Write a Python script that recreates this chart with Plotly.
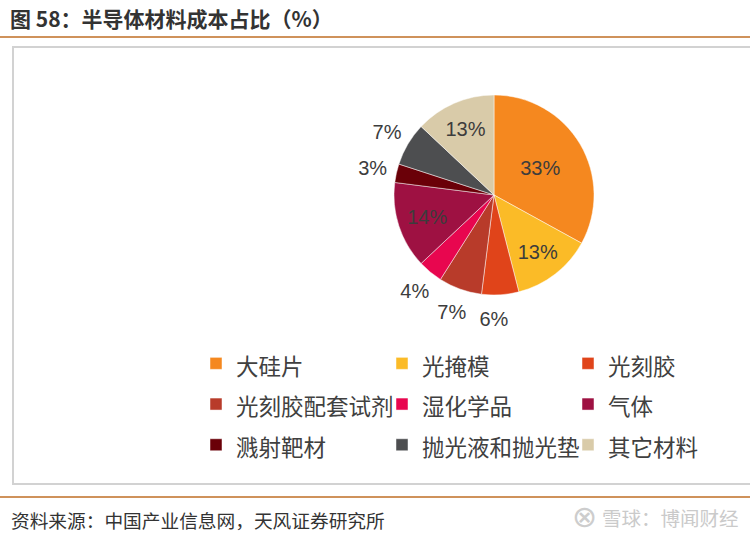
import plotly.graph_objects as go

# ---- data ----
categories = ['大硅片', '光掩模', '光刻胶', '光刻胶配套试剂', '湿化学品', '气体', '溅射靶材', '抛光液和抛光垫', '其它材料']
shares = [33, 13, 6, 7, 4, 14, 3, 7, 13]
colors = ['#F5881F', '#FBBB27', '#E0441A', '#B83B2A', '#E8064F', '#9E1142', '#6A0008', '#4D4E50', '#D9CBA9']
label_inside = [True, True, False, False, False, True, False, False, True]

title_text = '图 58：半导体材料成本占比（%）'
source_text = '资料来源：中国产业信息网，天风证券研究所'
watermark_text = '雪球：博闻财经'

W, H = 750, 538
ML, MR, MT, MB = 10, 60, 40, 50
PW, PH = W - ML - MR, H - MT - MB


def xp(px):
    return (px - ML) / PW


def yp(py):
    return 1 - (py - MT) / PH


cx, cy, R = 494, 195, 100      # pie
R2, HOLE = 135, 0.84           # transparent label ring for the outside percentages

legend_labels = [f'<span style="font-size:22.5px">{c}</span>' for c in categories]
pct_font = dict(family='Liberation Sans, Arial, sans-serif', size=20, color='#3C3C3C')

fig = go.Figure()
fig.add_trace(go.Pie(
    labels=legend_labels,
    values=shares,
    sort=False,
    direction='clockwise',
    rotation=0,
    marker=dict(colors=colors, line=dict(color='rgba(255,255,255,0.6)', width=0.8)),
    texttemplate='%{value}%',
    textposition=['inside' if f else 'none' for f in label_inside],
    insidetextorientation='horizontal',
    textfont=pct_font, insidetextfont=pct_font,
    domain=dict(x=[xp(cx - R), xp(cx + R)], y=[yp(cy + R), yp(cy - R)]),
    hoverinfo='label+percent',
))
# invisible outer ring that only carries the small-slice percentages (no leader lines)
fig.add_trace(go.Pie(
    labels=legend_labels,
    values=shares,
    sort=False,
    direction='clockwise',
    rotation=0,
    hole=HOLE,
    showlegend=False,
    hoverinfo='skip',
    marker=dict(colors=['rgba(0,0,0,0)'] * len(shares), line=dict(width=0)),
    texttemplate='%{value}%',
    textposition=['none' if f else 'inside' for f in label_inside],
    insidetextorientation='horizontal',
    textfont=pct_font, insidetextfont=pct_font,
    domain=dict(x=[xp(cx - R2), xp(cx + R2)], y=[yp(cy + R2), yp(cy - R2)]),
))

line_color = '#BF6E25'
shapes = [
    dict(type='line', xref='paper', yref='paper', x0=xp(0), x1=xp(W), y0=yp(37), y1=yp(37),
         line=dict(color=line_color, width=1.5)),
    dict(type='rect', xref='paper', yref='paper', x0=xp(13), x1=xp(W + 5), y0=yp(484), y1=yp(47),
         line=dict(color='#D2D2D2', width=2)),
    dict(type='line', xref='paper', yref='paper', x0=xp(0), x1=xp(W), y0=yp(497), y1=yp(497),
         line=dict(color=line_color, width=1.5)),
]

annotations = [
    dict(text='<b>' + title_text + '</b>', xref='paper', yref='paper', x=xp(8), y=yp(18),
         xanchor='left', yanchor='middle', showarrow=False,
         font=dict(family='Noto Sans CJK SC', size=21, color='#333333')),
    dict(text=source_text, xref='paper', yref='paper', x=xp(9), y=yp(519),
         xanchor='left', yanchor='middle', showarrow=False,
         font=dict(family='Noto Sans CJK SC', size=18.7, color='#333333')),
    dict(text='⊗', xref='paper', yref='paper', x=xp(584), y=yp(516),
         xanchor='center', yanchor='middle', showarrow=False,
         font=dict(family='DejaVu Sans', size=30, color='#CDCDCD')),
    dict(text=watermark_text, xref='paper', yref='paper', x=xp(741), y=yp(517),
         xanchor='right', yanchor='middle', showarrow=False,
         font=dict(family='Noto Sans CJK SC', size=19.5, color='#CACACA')),
]

fig.update_layout(
    width=W, height=H,
    margin=dict(l=ML, r=MR, t=MT, b=MB, autoexpand=False),
    paper_bgcolor='white', plot_bgcolor='white',
    showlegend=True,
    uniformtext=dict(minsize=20, mode='show'),
    legend=dict(
        orientation='h', x=xp(196), y=yp(338), xanchor='left', yanchor='top',
        entrywidth=141, entrywidthmode='pixels', traceorder='normal',
        font=dict(family='Noto Sans CJK SC', size=29, color='#404040'),
        bgcolor='rgba(0,0,0,0)', borderwidth=0,
    ),
    shapes=shapes,
    annotations=annotations,
)

fig.write_html('out.html')
